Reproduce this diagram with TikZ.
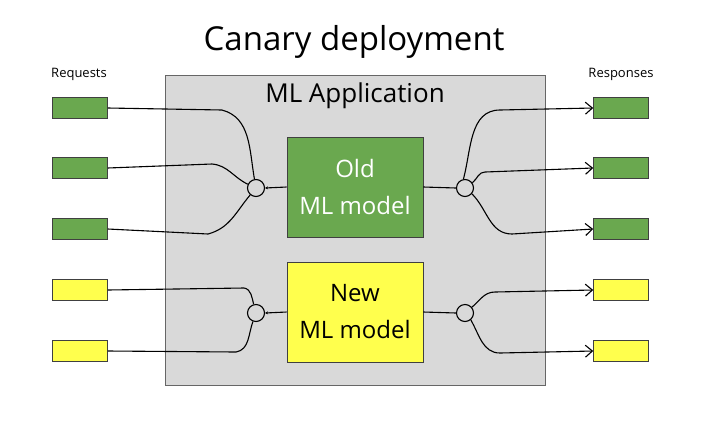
\documentclass[tikz,border=0pt]{standalone}
\usepackage{fontspec}
\setmainfont{Open Sans}
\usetikzlibrary{arrows.meta}

\definecolor{oldgreen}{RGB}{106,168,79}
\definecolor{newyellow}{RGB}{255,255,77}
\definecolor{appgray}{RGB}{217,217,217}

\begin{document}
\begin{tikzpicture}[x=1pt, y=-1pt, line width=1.1pt,
  every node/.style={inner sep=0pt},
  msg/.style={draw=black!75, line width=0.6pt, minimum width=55pt, minimum height=21pt},
  model/.style={draw=black!75, line width=0.6pt, minimum width=136pt, minimum height=100pt, align=center, font=\fontsize{24}{37}\selectfont},
  junc/.style={circle, draw, line width=1.1pt, minimum size=17pt},
  resp/.style={-{Straight Barb[length=7pt,width=12pt]}}]
  \useasboundingbox (0,0) rectangle (719,426);
  \node[font=\fontsize{33}{36}\selectfont] (title) at (354,42) {Canary deployment};
  \node[rectangle, fill=appgray, draw=black!60, line width=0.5pt, minimum width=380pt, minimum height=310pt] (app) at (355,230) {};
  \node[font=\fontsize{26}{30}\selectfont] (applabel) at (355,96) {ML Application};
  \node[font=\fontsize{13}{15}\selectfont] (reqlabel) at (79,74) {Requests};
  \node[font=\fontsize{13}{15}\selectfont] (reslabel) at (621,74) {Responses};
  \foreach \i/\y/\c in {1/108/oldgreen, 2/168/oldgreen, 3/229/oldgreen, 4/290/newyellow, 5/351/newyellow} {
    \node[msg, fill=\c] (req\i) at (80,\y) {};
    \node[msg, fill=\c] (res\i) at (621,\y) {};
  }
  \node[model, fill=oldgreen, text=white] (old) at (355,187) {Old\\ML model};
  \node[model, fill=newyellow] (new) at (355,312) {New\\ML model};
  \node[junc] (jl1) at (256,188) {};
  \node[junc] (jl2) at (256,313) {};
  \node[junc] (jr1) at (465,188) {};
  \node[junc] (jr2) at (465,313) {};
  \draw (req1.east) -- (222,110) to[out=-15, in=100] (jl1.100);
  \draw (req2.east) -- (212,164) to[out=-5, in=155] (jl1.155);
  \draw (req3.east) -- (208,234) to[out=15, in=-130] (jl1.-130);
  \draw (req4.east) -- (244,288) to[out=-10, in=105] (jl2.105);
  \draw (req5.east) -- (236,352) to[out=10, in=-110] (jl2.-110);
  \draw[-{Stealth[length=3pt, width=3pt]}] (old.west) -- (jl1.east);
  \draw[-{Stealth[length=3pt, width=3pt]}] (new.west) -- (jl2.east);
  \draw (old.east) -- (jr1.west);
  \draw (new.east) -- (jr2.west);
  \draw[resp] (jr1.100) to[out=75, in=180] (500,110) -- (res1.west);
  \draw[resp] (jr1.35) to[out=40, in=180] (485,172) -- (res2.west);
  \draw[resp] (jr1.-40) to[out=-45, in=180] (512,234) -- (res3.west);
  \draw[resp] (jr2.40) to[out=40, in=180] (495,292) -- (res4.west);
  \draw[resp] (jr2.-50) to[out=-60, in=180] (500,353) -- (res5.west);
\end{tikzpicture}
\end{document}
